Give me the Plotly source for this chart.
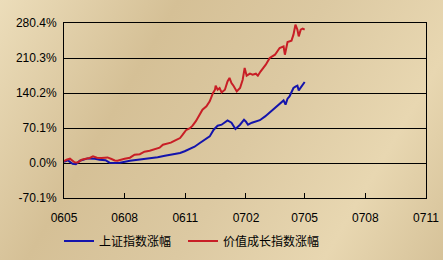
import base64
import plotly.graph_objects as go

# ---- data (cumulative % change) ----
sh_dates = ["2006-05-01","2006-05-07","2006-05-14","2006-05-19","2006-05-25","2006-06-06","2006-06-17",
            "2006-06-24","2006-07-03","2006-07-09","2006-07-17","2006-07-25","2006-08-09","2006-08-21",
            "2006-09-08","2006-09-20","2006-10-01","2006-10-11","2006-10-24","2006-10-31","2006-11-08",
            "2006-11-15","2006-11-23","2006-11-30","2006-12-08","2006-12-14","2006-12-20","2006-12-26",
            "2006-12-31","2007-01-04","2007-01-10","2007-01-16","2007-01-23","2007-01-29","2007-02-01",
            "2007-02-04","2007-02-10","2007-02-16","2007-02-22","2007-03-02","2007-03-12","2007-03-18",
            "2007-03-24","2007-03-30","2007-04-02","2007-04-05","2007-04-08","2007-04-14","2007-04-17",
            "2007-04-20","2007-04-22","2007-04-27","2007-05-01"]
sh_values = [2.6, 5.2, -1.4, -2.4, 4.6, 9.2, 8.6,
             6.6, 5.6, 0.6, 0.0, 0.6, 4.6, 6.6,
             8.6, 11.6, 14.6, 16.6, 20.0, 23.6, 28.0,
             32.6, 40.0, 46.7, 53.3, 66.7, 74.7, 76.7,
             80.7, 85.3, 80.7, 68.1, 76.7, 86.7, 82.7,
             76.7, 80.7, 82.7, 85.7, 93.3, 104.8, 112.8,
             120.2, 125.4, 116.8, 128.8, 133.4, 150.2, 152.8,
             154.8, 145.4, 154.8, 162.2]

vg_dates = ["2006-05-01","2006-05-05","2006-05-10","2006-05-17","2006-05-22","2006-05-28","2006-06-03",
            "2006-06-09","2006-06-14","2006-06-20","2006-06-27","2006-07-06","2006-07-12","2006-07-17",
            "2006-07-21","2006-07-26","2006-08-01","2006-08-09","2006-08-16","2006-08-24","2006-08-31",
            "2006-09-08","2006-09-16","2006-09-23","2006-09-28","2006-10-04","2006-10-10","2006-10-16",
            "2006-10-24","2006-10-28","2006-11-02","2006-11-08","2006-11-12","2006-11-17","2006-11-20",
            "2006-11-23","2006-11-27","2006-12-03","2006-12-08","2006-12-13","2006-12-16","2006-12-17",
            "2006-12-20","2006-12-23","2006-12-26","2006-12-31","2007-01-04","2007-01-07","2007-01-10",
            "2007-01-13","2007-01-18","2007-01-23","2007-01-27","2007-01-30","2007-02-02","2007-02-07",
            "2007-02-11","2007-02-16","2007-02-19","2007-02-23","2007-02-28","2007-03-03","2007-03-09",
            "2007-03-17","2007-03-24","2007-03-30","2007-04-01","2007-04-05","2007-04-11","2007-04-14",
            "2007-04-17","2007-04-19","2007-04-20","2007-04-22","2007-04-25","2007-04-28","2007-05-01"]
vg_values = [3.6, 6.6, 8.6, 1.6, 1.2, 6.6, 8.6,
             10.0, 13.2, 10.6, 10.0, 11.2, 8.0, 5.2,
             4.6, 6.6, 8.6, 10.6, 16.6, 17.6, 22.6,
             24.6, 27.6, 30.6, 36.7, 38.7, 40.7, 44.7,
             50.0, 56.7, 65.7, 69.7, 74.7, 83.7, 90.7,
             96.7, 106.8, 113.4, 123.4, 140.2, 146.8, 154.8,
             146.8, 150.2, 141.4, 146.8, 163.4, 170.3, 160.2,
             154.8, 143.4, 150.2, 166.8, 190.3, 174.9, 178.9,
             176.9, 178.9, 174.9, 183.2, 190.9, 196.9, 210.3,
             216.9, 230.3, 233.6, 216.9, 242.4, 245.0, 257.0,
             277.0, 271.0, 267.0, 253.6, 267.0, 269.0, 267.0]

series_names = ["上证指数涨幅", "价值成长指数涨幅"]
y_ticks = [-70.1, 0.0, 70.1, 140.2, 210.3, 280.4]
y_tick_labels = ["-70.1%", "0.0%", "70.1%", "140.2%", "210.3%", "280.4%"]
x_ticks = ["2006-05-01", "2006-08-01", "2006-11-01", "2007-02-01", "2007-05-01", "2007-08-01", "2007-11-01"]
x_tick_labels = ["0605", "0608", "0611", "0702", "0705", "0708", "0711"]

W, H = 443, 260
ML, MR, MT, MB = 64, 17, 23, 62

fig = go.Figure()
fig.add_trace(go.Scatter(x=sh_dates, y=sh_values, mode="lines", name=series_names[0],
                         line=dict(color="#1414AC", width=2), legend="legend"))
fig.add_trace(go.Scatter(x=vg_dates, y=vg_values, mode="lines", name=series_names[1],
                         line=dict(color="#C81E26", width=2), legend="legend2"))

# background gradient
svg = f'''<svg xmlns="http://www.w3.org/2000/svg" width="{W}" height="{H}">
<defs><linearGradient id="g" gradientUnits="userSpaceOnUse" x1="0" y1="0" x2="{W}" y2="{H}">
<stop offset="0" stop-color="#ECDDBA"/>
<stop offset="0.3" stop-color="#D5C096"/>
<stop offset="0.55" stop-color="#DCC9A2"/>
<stop offset="0.8" stop-color="#E8D7B1"/>
<stop offset="1" stop-color="#D6C299"/>
</linearGradient></defs>
<rect width="{W}" height="{H}" fill="url(#g)"/></svg>'''
src = "data:image/svg+xml;base64," + base64.b64encode(svg.encode()).decode()
pw, ph = W - ML - MR, H - MT - MB
fig.add_layout_image(dict(source=src, xref="paper", yref="paper",
                          x=-ML / pw, y=1 + MT / ph, sizex=W / pw, sizey=H / ph,
                          sizing="stretch", xanchor="left", yanchor="top", layer="below"))

legend_common = dict(orientation="h", y=(198 - 241) / ph, xanchor="left", yanchor="middle",
                     bgcolor="rgba(0,0,0,0)", font=dict(family="Noto Sans CJK SC", size=12))

fig.update_layout(
    width=W, height=H,
    margin=dict(l=ML, r=MR, t=MT, b=MB, autoexpand=False),
    paper_bgcolor="#DECBA4",
    plot_bgcolor="rgba(0,0,0,0)",
    font=dict(family="Liberation Sans, Arial, sans-serif", size=12, color="#000000"),
    showlegend=True,
    legend=dict(x=(59 - ML) / pw, **legend_common),
    legend2=dict(x=(183 - ML) / pw, **legend_common),
    xaxis=dict(type="date", range=[x_ticks[0], x_ticks[-1]], tickvals=x_ticks, ticktext=x_tick_labels,
               showgrid=False, zeroline=False, showline=True, linecolor="#000000", linewidth=1,
               mirror=True, ticks="inside", ticklen=5, tickcolor="#000000", ticklabelstandoff=9),
    yaxis=dict(range=[y_ticks[0], y_ticks[-1]], tickvals=y_ticks, ticktext=y_tick_labels,
               showgrid=True, gridcolor="#000000", gridwidth=1, zeroline=False,
               showline=True, linecolor="#000000", linewidth=1, mirror=True, ticks="", ticklabelstandoff=4),
)

fig.write_html("out.html")
